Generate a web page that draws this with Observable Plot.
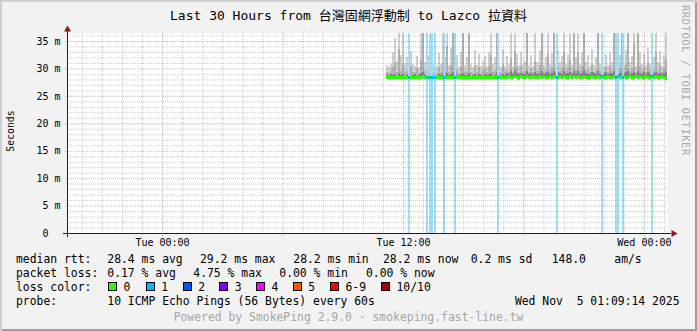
<!DOCTYPE html>
<html>
<head>
<meta charset="utf-8">
<script src="https://cdn.jsdelivr.net/npm/d3@7"></script>
<script src="https://cdn.jsdelivr.net/npm/@observablehq/plot@0.6"></script>
<style>
  body { margin: 0; background: #ffffff; }
  #wrap {
    position: relative; width: 697px; height: 331px; background: #f2f2f2;
    box-shadow: inset 2px 2px 0 #cfcfcf, inset -2px -2px 0 #9e9e9e;
    overflow: hidden;
  }
  #wrap svg { position: absolute; left: 0; top: 0; }
</style>
</head>
<body>
<div id="wrap"></div>
<script>
// ---------------- DATA ----------------
const titleText = "Last 30 Hours from 台灣固網浮動制 to Lazco 拉資料";
const startTime = "2025-11-04T11:09:00Z";   // first sample with data
const stepMinutes = 6;

const medianRtt = [
  28.4,28.3,28.4,28.4,28.3,28.4,28.4,28.3,28.4,28.4,
  28.3,28.4,28.4,28.3,28.4,28.4,28.3,28.4,28.5,28.4,
  28.4,28.3,28.4,28.4,28.3,28.4,28.4,28.3,28.4,28.4,
  28.4,28.3,28.4,28.4,28.3,28.4,28.4,28.4,28.3,28.4,
  28.4,28.3,28.4,28.4,28.4,28.3,28.4,28.4,28.3,28.4,
  28.4,28.4,28.3,28.4,28.4,28.3,28.4,28.4,28.4,28.3,
  28.4,28.5,28.3,28.4,28.6,28.4,28.3,28.5,28.4,28.3,
  28.6,28.4,28.3,28.5,28.4,28.3,28.6,28.4,28.5,28.3,
  28.4,28.6,28.3,28.5,28.4,28.3,28.5,28.4,28.6,28.3,
  28.4,28.5,28.3,28.6,28.4,28.5,28.3,28.4,28.6,28.4,
  28.3,28.4,28.5,28.3,28.4,28.5,28.3,28.6,28.4,28.3,
  28.5,28.4,28.3,28.6,28.4,28.5,28.3,28.4,28.6,28.3,
  28.4,28.5,28.3,28.4,28.6,28.3,28.5,28.4,28.3,28.5,
  28.4,28.3,28.6,28.4,28.5,28.3,28.4,28.5,28.3,28.2
];
const smokeMax = [
  30.6,30.2,30.8,33.0,35.5,31.4,36.8,32.5,36.8,31.0,
  32.0,30.4,33.2,30.8,30.4,32.2,30.2,36.8,36.8,31.2,
  36.8,32.4,36.8,30.6,33.6,30.4,32.8,30.8,36.8,32.0,
  36.8,30.6,33.8,36.8,30.4,32.4,30.2,33.0,36.8,30.6,
  32.0,36.8,30.8,30.2,33.4,30.6,32.6,30.4,31.4,32.2,
  30.4,33.0,36.8,30.8,32.0,36.8,30.6,30.2,33.6,30.4,
  32.2,30.8,36.8,30.4,36.8,32.6,30.6,33.0,30.8,31.4,
  36.8,30.6,32.4,30.4,36.8,31.2,33.4,36.8,30.6,32.0,
  36.8,30.8,32.8,36.8,30.4,33.2,31.2,32.2,36.8,30.8,
  32.6,36.8,30.6,36.8,32.0,36.8,30.8,33.0,36.8,31.2,
  32.4,30.4,33.6,30.6,32.0,36.8,30.8,33.2,30.4,32.6,
  30.6,33.0,31.2,36.8,36.8,30.8,32.4,36.8,30.6,33.4,
  36.8,31.2,32.2,36.8,30.4,36.8,33.0,30.8,32.6,30.6,
  33.8,30.8,36.8,32.0,36.8,31.2,33.2,30.4,32.4,36.8
];
const smokeMid = [
  29.4,29.2,29.6,30.2,31.0,29.4,33.5,29.6,30.6,29.3,
  29.6,29.2,30.4,29.4,29.3,30.0,29.2,31.5,36.8,29.6,
  32.0,29.4,36.8,29.3,30.4,29.2,30.2,29.4,31.2,29.6,
  34.0,29.3,30.6,36.8,29.2,29.7,29.2,30.4,36.8,29.4,
  29.6,36.8,29.3,29.2,30.6,29.4,30.2,29.2,29.6,30.0,
  29.3,30.4,32.4,29.4,29.6,36.8,29.3,29.2,30.8,29.4,
  29.7,29.4,31.8,29.3,33.2,30.2,29.4,30.4,29.4,29.6,
  36.8,29.4,30.0,29.3,31.4,29.6,30.6,36.8,29.4,29.7,
  32.6,29.5,30.2,36.8,29.3,30.6,29.6,30.0,33.0,29.5,
  30.2,31.6,29.4,36.8,29.7,32.8,29.5,30.4,36.8,29.6,
  29.9,29.3,30.8,29.4,29.7,36.8,29.5,30.6,29.3,30.2,
  29.4,30.4,29.6,36.8,33.4,29.5,30.0,36.8,29.4,30.8,
  36.8,29.6,30.0,34.6,29.3,36.8,30.4,29.5,30.2,29.4,
  31.2,29.5,36.8,29.7,33.0,29.6,30.6,29.3,30.0,31.8
];
const smokeDark = [
  28.8,28.7,28.9,28.8,29.0,28.7,29.1,28.8,28.9,28.7,
  28.8,28.9,28.7,28.8,29.0,28.7,28.8,29.1,29.3,28.8,
  29.0,28.7,29.2,28.8,28.9,28.7,29.0,28.8,29.1,28.7,
  29.2,28.8,28.9,29.3,28.7,28.8,28.7,28.9,29.2,28.8,
  28.8,29.1,28.7,28.8,28.9,28.7,29.0,28.8,28.7,28.9,
  28.8,28.9,29.2,28.7,28.8,29.3,28.8,28.7,29.0,28.8,
  29.1,28.9,29.5,29.0,29.7,29.1,28.9,29.2,29.0,28.9,
  29.5,29.0,29.1,28.9,29.4,29.0,29.2,29.6,28.9,29.1,
  29.4,29.0,29.2,29.5,28.9,29.3,29.1,29.0,29.5,28.9,
  29.2,29.4,29.0,29.6,29.1,29.5,28.9,29.2,29.7,29.1,
  29.0,28.9,29.3,29.1,29.0,29.5,28.9,29.2,29.0,29.3,
  28.9,29.2,29.1,29.6,29.4,29.0,29.1,29.5,28.9,29.3,
  29.5,29.0,29.2,29.4,28.9,29.6,29.2,29.0,29.3,28.9,
  29.3,29.0,29.5,29.1,29.4,29.0,29.2,28.9,29.1,29.4
];
const lossTimes = [
  "2025-11-04T12:14:00Z","2025-11-04T13:09:00Z","2025-11-04T13:19:00Z","2025-11-04T13:23:00Z",
  "2025-11-04T13:33:00Z","2025-11-04T13:59:00Z","2025-11-04T14:32:00Z","2025-11-04T16:41:00Z",
  "2025-11-04T19:37:00Z","2025-11-04T21:52:00Z","2025-11-04T22:34:00Z","2025-11-04T22:40:00Z",
  "2025-11-04T22:55:00Z","2025-11-05T00:21:00Z"
];
const lossCounts = [1,1,1,1,1,1,1,1,1,1,1,1,1,1];

const yTicks = [0,5,10,15,20,25,30,35];
const yTickLabels = ["0\u00a0\u00a0","5 m","10 m","15 m","20 m","25 m","30 m","35 m"];
const xTicks = ["2025-11-04T00:00:00Z","2025-11-04T12:00:00Z","2025-11-05T00:00:00Z"];
const xTickLabels = ["Tue 00:00","Tue 12:00","Wed 00:00"];

const lossLabels = ["0","1","2","3","4","5","6-9","10/10"];
const lossColors = ["#26ff00","#00b8ff","#0059ff","#7e00ff","#ff00ff","#ff5500","#ff0000","#a10000"];

const legendRtt = ["28.4 ms avg","29.2 ms max","28.2 ms min","28.2 ms now","0.2 ms sd","148.0","am/s"];
const legendLoss = ["0.17 % avg","4.75 % max","0.00 % min","0.00 % now"];
const probeText = "10 ICMP Echo Pings (56 Bytes) every 60s";
const dateText = "Wed Nov  5 01:09:14 2025";
const poweredText = "Powered by SmokePing 2.9.0 · smokeping.fast-line.tw";
const watermark = "RRDTOOL / TOBI OETIKER";

// ---------------- LAYOUT ----------------
const W = 697, H = 331;
const M = {left: 67, right: 30, top: 33, bottom: 98};
const tStart = new Date("2025-11-03T19:16:00Z");
const tEnd = new Date("2025-11-05T01:09:00Z");
const yMax = 36.46;
const FONT = "'DejaVu Sans Mono', 'Noto Sans CJK TC', monospace";
const pxPerMs = (W - M.left - M.right) / (tEnd - tStart);
const pxPerY = (H - M.top - M.bottom) / yMax;
const tPx = px => new Date(+tStart + px / pxPerMs);
const stepMs = stepMinutes * 60000;

const t0 = new Date(startTime);
const samples = medianRtt.map((m, i) => ({
  t1: new Date(+t0 + i * stepMs), t2: new Date(+t0 + (i + 1) * stepMs),
  median: m, max: smokeMax[i], mid: smokeMid[i], dark: smokeDark[i]
}));
const medianAt = t => {
  const i = Math.max(0, Math.min(samples.length - 1, Math.floor((t - t0) / stepMs)));
  return samples[i].median;
};
const losses = lossTimes.map((s, i) => {
  const t = new Date(s);
  return {t1: t, t2: new Date(+t + stepMs), count: lossCounts[i], median: medianAt(t)};
});

const hours = d3.utcHour.range(tStart, tEnd);
const minorX = hours.filter(d => d.getUTCHours() % 6 !== 0);
const majorX = hours.filter(d => d.getUTCHours() % 6 === 0);
const minorY = d3.range(1, 37).filter(v => v % 5 !== 0 && v < yMax);
const majorY = [5,10,15,20,25,30,35];

const xTickDates = xTicks.map(s => new Date(s));
const xLabelMap = new Map(xTickDates.map((d, i) => [+d, xTickLabels[i]]));
const yLabelMap = new Map(yTicks.map((v, i) => [v, yTickLabels[i]]));
const halfBand = 1.5 / pxPerY;

const chart = Plot.plot({
  width: W, height: H,
  marginLeft: M.left, marginRight: M.right, marginTop: M.top, marginBottom: M.bottom,
  style: {background: "transparent", fontFamily: FONT, fontSize: "10px", color: "#000", overflow: "visible"},
  x: {type: "utc", domain: [tStart, tEnd]},
  y: {domain: [0, yMax]},
  marks: [
    Plot.frame({fill: "#ffffff", stroke: null}),
    // smoke
    Plot.rect(samples, {x1: "t1", x2: "t2", y1: d => d.median - 0.4, y2: "max", fill: "#d0d0d0", clip: true, shapeRendering: "crispEdges"}),
    Plot.rect(samples, {x1: "t1", x2: "t2", y1: "median", y2: "mid", fill: "#b0b0b0", clip: true, shapeRendering: "crispEdges"}),
    Plot.rect(samples, {x1: "t1", x2: "t2", y1: "median", y2: "dark", fill: "#808080", clip: true, shapeRendering: "crispEdges"}),
    // loss bars
    Plot.rect(losses, {x1: "t1", x2: "t2", y1: 0, y2: yMax, fill: "#a3def7", shapeRendering: "crispEdges"}),
    // median
    Plot.rect(samples, {x1: "t1", x2: "t2", y1: d => d.median - halfBand, y2: d => d.median + halfBand, fill: lossColors[0], shapeRendering: "crispEdges"}),
    Plot.rect(losses, {x1: "t1", x2: "t2", y1: d => d.median - halfBand, y2: d => d.median + halfBand, fill: d => lossColors[d.count], shapeRendering: "crispEdges"}),
    // grid
    Plot.ruleY(minorY, {stroke: "rgba(143,143,143,0.45)", strokeDasharray: "1,1"}),
    Plot.ruleX(minorX, {stroke: "rgba(143,143,143,0.45)", strokeDasharray: "1,1"}),
    Plot.ruleY(majorY, {x1: tPx(-2), x2: tEnd, stroke: "rgba(222,79,79,0.5)", strokeDasharray: "1,1"}),
    Plot.ruleX(majorX, {y1: -3 / pxPerY, y2: yMax, stroke: "rgba(222,79,79,0.5)", strokeDasharray: "1,1"}),
    // axes lines
    Plot.ruleY([0], {x1: tPx(-4), x2: tPx(W - M.left - M.right + 4), stroke: "#1f1f1f"}),
    Plot.ruleX([tStart], {y1: -4 / pxPerY, y2: yMax + 3 / pxPerY, stroke: "#1f1f1f"}),
    Plot.dot([0], {x: () => tPx(W - M.left - M.right + 6), y: 0, symbol: "triangle", rotate: 90, r: 2.6, fill: "#801f1f", stroke: null}),
    Plot.dot([0], {x: () => tStart, y: yMax + 4 / pxPerY, symbol: "triangle", r: 2.6, fill: "#801f1f", stroke: null}),
    // axes labels
    Plot.axisX(xTickDates, {tickSize: 0, tickPadding: 5.5, label: null, tickFormat: d => xLabelMap.get(+d), fontSize: 10}),
    Plot.axisY(yTicks, {tickSize: 0, tickPadding: 7, label: null, tickFormat: d => yLabelMap.get(d), fontSize: 10})
  ]
});

document.getElementById("wrap").appendChild(chart);

// ---------------- TEXT (title, legend, footer) ----------------
const svg = d3.select(chart);
const nb = s => s.replace(/ /g, "\u00a0");
function txt(str, x, y, o = {}) {
  const t = svg.append("text")
    .attr("x", x).attr("y", y)
    .attr("font-family", FONT)
    .attr("font-size", o.size || 11.4)
    .attr("fill", o.fill || "#000")
    .attr("text-anchor", o.anchor || "start")
    .text(nb(str));
  if (o.transform) t.attr("transform", o.transform).attr("x", 0).attr("y", 0);
  if (o.spacing) t.attr("letter-spacing", o.spacing);
  return t;
}
txt(titleText, 348.5, 20, {size: 13, anchor: "middle"});
txt("Seconds", 0, 0, {size: 9.8, anchor: "middle", transform: "translate(14,131) rotate(-90)"});
txt(watermark, 0, 0, {size: 10.4, fill: "#ababab", spacing: 0.6, transform: "translate(682,5) rotate(90)"});

const L1 = 263, L2 = 277, L3 = 291, L4 = 304.5;
txt("median rtt:", 16, L1);
[107.3, 200, 293.3, 383, 470.7, 551.7, 614.3].forEach((x, i) => txt(legendRtt[i], x, L1));
txt("packet loss:", 16, L2);
[107.3, 193.3, 279.3, 366].forEach((x, i) => txt(legendLoss[i], x, L2));
txt("loss color:", 16, L3);
const sqX = [108, 145.7, 182.7, 219.3, 256, 292.7, 330, 381];
lossLabels.forEach((lab, i) => {
  svg.append("rect").attr("x", Math.round(sqX[i]) + 0.5).attr("y", 282.5).attr("width", 8).attr("height", 8)
    .attr("fill", lossColors[i]).attr("stroke", "#000").attr("stroke-width", 1);
  txt(lab, sqX[i] + 15.5, L3);
});
txt("probe:", 16, L4);
txt(probeText, 107.3, L4);
txt(dateText, 679.5, L4, {anchor: "end"});
txt(poweredText, 348.5, 321, {fill: "#a6a6a6", anchor: "middle"});
</script>
</body>
</html>
